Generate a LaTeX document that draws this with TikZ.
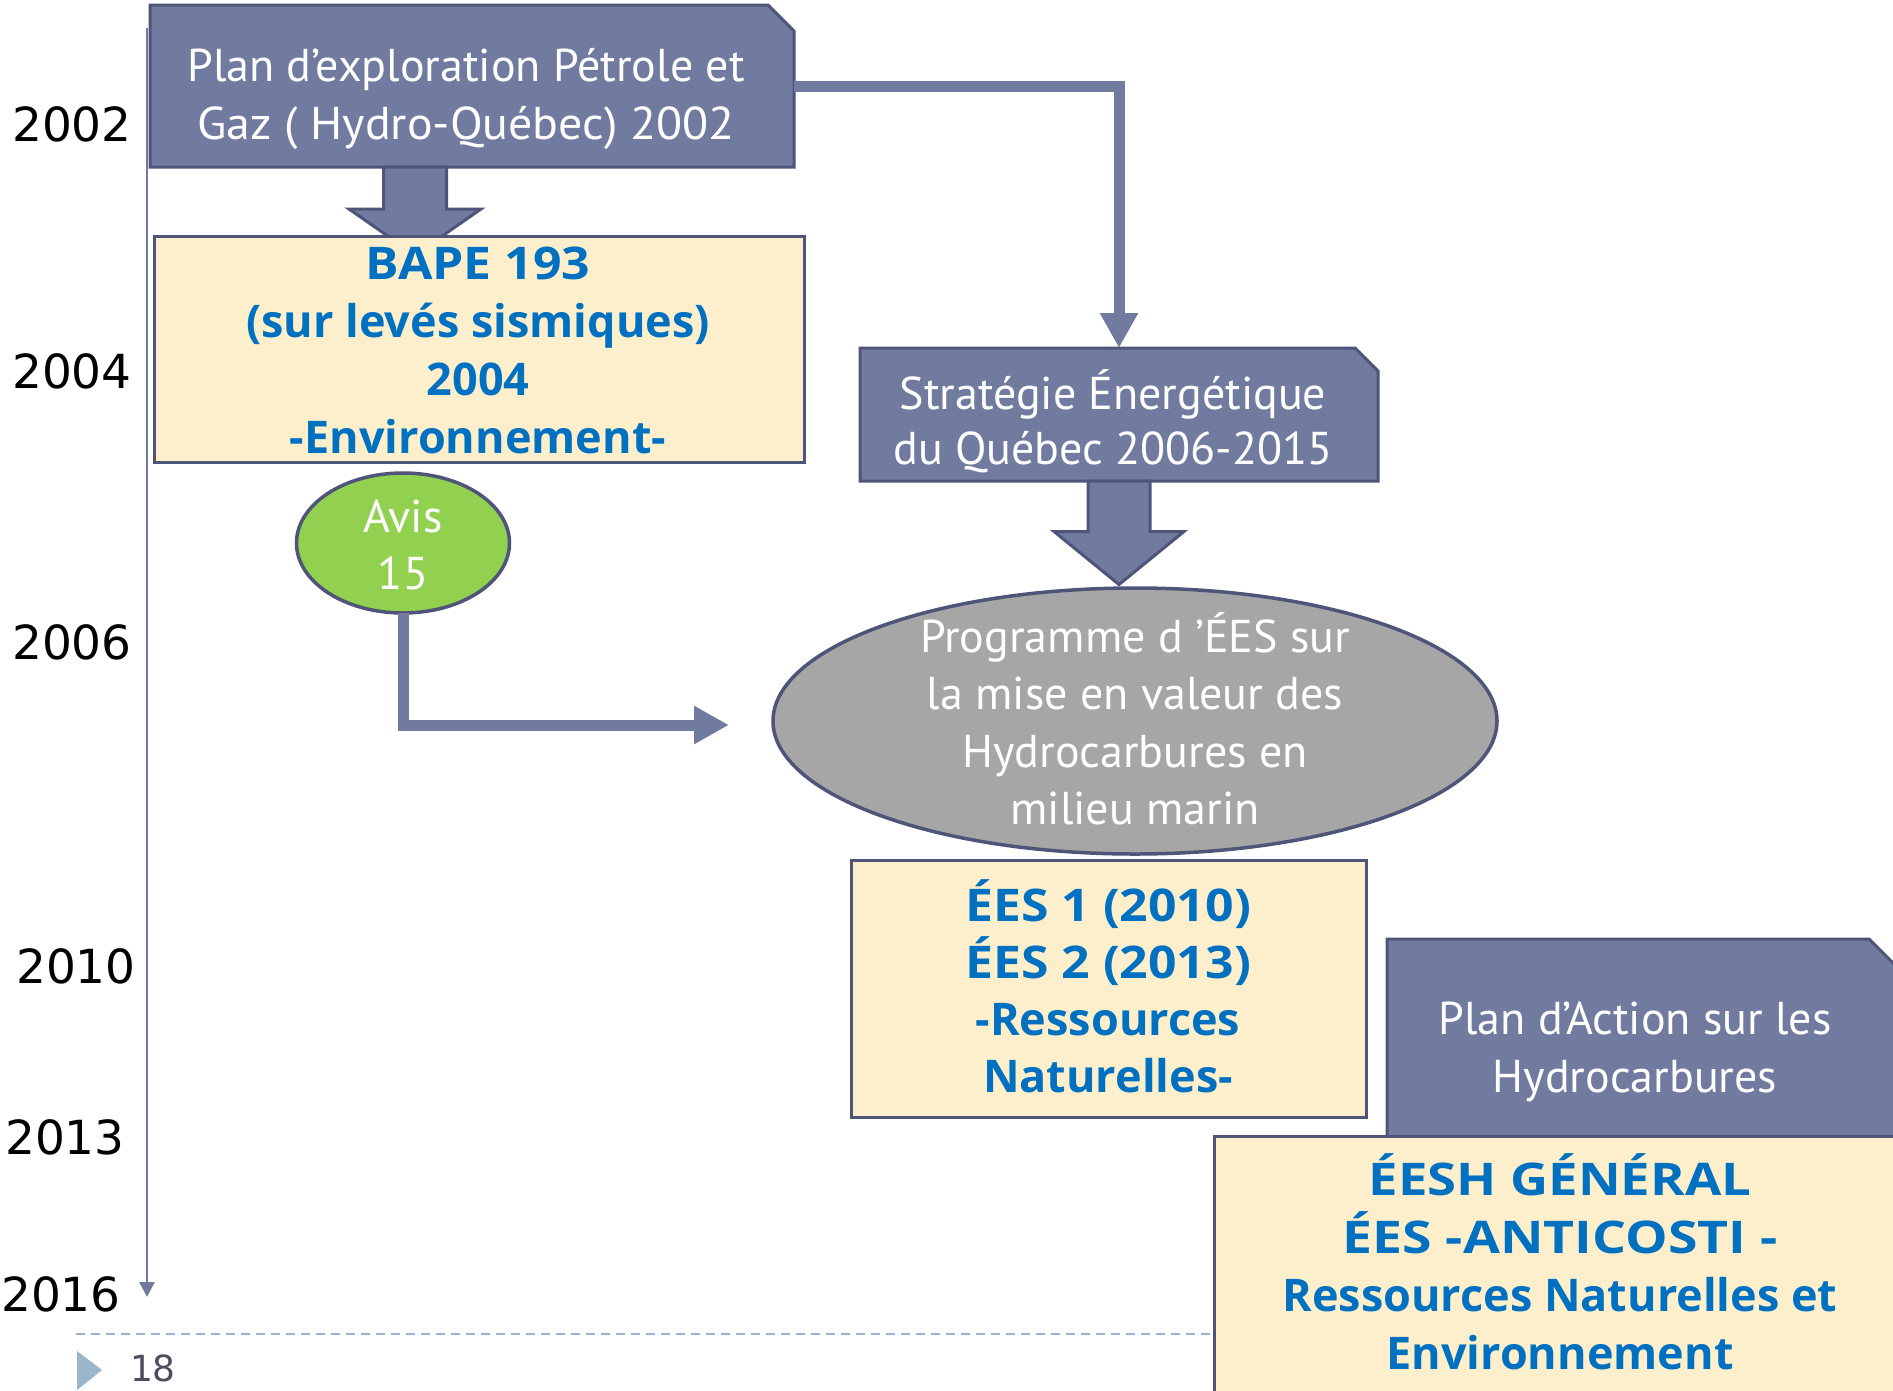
\documentclass[tikz,border=0pt]{standalone}
\usepackage{graphicx}
\usepackage{fontspec}
\setmainfont{PT Sans}
\newfontfamily\yearfont{DejaVu Sans}
\newfontfamily\bluefont{Open Sans}
\usetikzlibrary{arrows.meta,shapes.geometric}
\definecolor{slate}{HTML}{717BA0}
\definecolor{slateedge}{HTML}{4E5578}
\definecolor{cream}{HTML}{FDEFCC}
\definecolor{bluetxt}{HTML}{0070C0}
\definecolor{avisgreen}{HTML}{92D050}
\definecolor{greyfill}{HTML}{A6A6A6}
\definecolor{dashblue}{HTML}{9BB5CC}
\definecolor{pagenum}{HTML}{4D4D5C}
\newcommand\chamfbox[2]{%
  \path[slatebox] (#1.south west) -- (#1.north west) -- ([xshift=-#2]#1.north east)
    -- ([yshift=-#2]#1.north east) -- (#1.south east) -- cycle;}
\newcommand\widen[2]{\scalebox{#1}[1]{#2}}
\begin{document}
\begin{tikzpicture}[x=1pt,y=-1pt,
  frame/.style={draw=none, fill=none, inner sep=0pt, outer sep=0pt},
  slatebox/.style={fill=slate, draw=slateedge, line width=3pt, line join=miter},
  creambox/.style={fill=cream, draw=slateedge, line width=3pt},
  blockarrow/.style={fill=slate, draw=slateedge, line width=3pt, line join=miter},
  thinarrow/.style={draw=slate, line width=11pt, line join=miter, -{Triangle[length=35pt,width=36pt]}},
  whitetext/.style={inner sep=0pt, align=center, text=white, font=\fontsize{46}{57.5}\selectfont},
  bluetext/.style={inner sep=0pt, align=center, text=bluetxt, font=\bluefont\fontsize{45}{58}\selectfont\bfseries},
  yearlabel/.style={inner sep=0pt, font=\yearfont\fontsize{47}{50}\selectfont},
]
\useasboundingbox (0,0) rectangle (1893,1390);
\clip (0,0) rectangle (1893,1390);
\fill[white] (0,0) rectangle (1893,1390);
% geometry frames
\node[frame, minimum width=644pt, minimum height=162pt] (plan) at (472,86) {};
\node[frame, minimum width=650pt, minimum height=226pt] (bape) at (479,349) {};
\node[frame, minimum width=518pt, minimum height=133pt] (strat) at (1119,414.5) {};
\node[frame, ellipse, minimum width=724pt, minimum height=266pt] (prog) at (1135,721) {};
\node[frame, ellipse, minimum width=213pt, minimum height=140pt] (avis) at (403,543) {};
\node[frame, minimum width=515pt, minimum height=257pt] (ees) at (1108.5,988.5) {};
\node[frame, minimum width=508pt, minimum height=220pt] (action) at (1641,1049) {};
\node[frame, minimum width=692pt, minimum height=260pt] (eesh) at (1560,1266) {};
\coordinate (tltop) at (147,28);
\coordinate (tlend) at (147,1297);
\coordinate (dashstart) at (76,1334);
% timeline
\draw[draw=slate, line width=2.5pt, -{Triangle[length=15pt,width=15pt]}] (tltop) -- (tlend);
% footer
\draw[dashblue, line width=2pt, dash pattern=on 9pt off 6pt] (dashstart) -- (dashstart -| eesh.west);
\fill[dashblue] (77,1351) -- (102,1370) -- (77,1390) -- cycle;
% boxes and connectors
\chamfbox{plan}{26pt}
\draw[thinarrow] (plan.east) -| (strat.north);
\path[blockarrow] ([xshift=-57pt]plan.south) ++(-31.5,0) -- ++(0,42) -- ++(-34.5,0) -- ++(66,46)
  -- ++(66,-46) -- ++(-34.5,0) -- ++(0,-42) -- cycle;
\path[creambox] (bape.south west) rectangle (bape.north east);
\chamfbox{strat}{23pt}
\path[blockarrow] (strat.south) ++(-31,0) -- ++(0,50.5) -- ++(-34,0) -- ++(65,53)
  -- ++(65,-53) -- ++(-34,0) -- ++(0,-50.5) -- cycle;
\path[fill=greyfill, draw=slateedge, line width=3.5pt] (prog.center) ellipse [x radius=362, y radius=133];
\path[fill=avisgreen, draw=slateedge, line width=3.5pt] (avis.center) ellipse [x radius=106.5, y radius=70];
\draw[thinarrow] (avis.south) |- ([xshift=-44pt,yshift=-4pt]prog.west);
\path[creambox] (ees.south west) rectangle (ees.north east);
\chamfbox{action}{26pt}
\path[creambox] (eesh.south west) rectangle (eesh.north east);
% texts
\node[whitetext] (plantext) at (466,99) {Plan d’exploration Pétrole et\\\widen{1.04}{Gaz ( Hydro-Québec) 2002}};
\node[bluetext] (bapetext) at (478,350) {\widen{1.11}{BAPE 193}\\(sur levés sismiques)\\2004\\-Environnement-};
\node[whitetext, font=\fontsize{46}{55.5}\selectfont] (strattext) at (1113,421) {Stratégie Énergétique\\du Québec 2006-2015};
\node[whitetext] (progtext) at (1135,719) {Programme d ’ÉES sur\\la mise en valeur des\\Hydrocarbures en\\milieu marin};
\node[whitetext] (avistext) at (403,545) {Avis\\15};
\node[bluetext, font=\bluefont\fontsize{45}{57}\selectfont\bfseries] (eestext) at (1108,986) {\widen{1.11}{ÉES 1 (2010)}\\\widen{1.11}{ÉES 2 (2013)}\\-Ressources\\Naturelles-};
\node[whitetext] (actiontext) at (1635,1052) {Plan d’Action sur les\\Hydrocarbures};
\node[bluetext] (eeshtext) at (1560,1262) {\widen{1.17}{ÉESH GÉNÉRAL}\\\widen{1.19}{ÉES -ANTICOSTI -}\\Ressources Naturelles et\\Environnement};
\node[yearlabel] (y2002) at (72,124) {2002};
\node[yearlabel] (y2004) at (72,371) {2004};
\node[yearlabel] (y2006) at (72,642) {2006};
\node[yearlabel] (y2010) at (76,966) {2010};
\node[yearlabel] (y2013) at (65,1137) {2013};
\node[yearlabel] (y2016) at (61,1294) {2016};
\node[inner sep=0pt, text=pagenum, font=\yearfont\fontsize{36}{40}\selectfont] (pnum) at (153,1368) {18};
\end{tikzpicture}
\end{document}
